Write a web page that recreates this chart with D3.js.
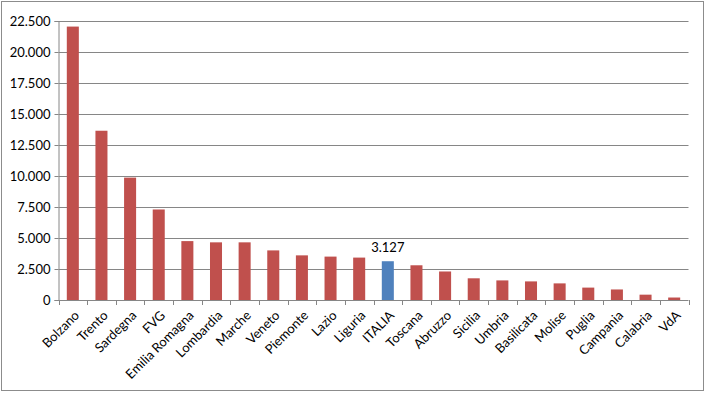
<!DOCTYPE html>
<html><head><meta charset="utf-8">
<script src="https://cdnjs.cloudflare.com/ajax/libs/d3/7.8.5/d3.min.js"></script>
<style>body{margin:0;background:#fff}svg{display:block}text{font-family:Lato,"Liberation Sans",sans-serif}</style>
</head><body><svg id="c" width="706" height="393"></svg>
<script>
const categories = ["Bolzano","Trento","Sardegna","FVG","Emilia Romagna","Lombardia","Marche","Veneto","Piemonte","Lazio","Liguria","ITALIA","Toscana","Abruzzo","Sicilia","Umbria","Basilicata","Molise","Puglia","Campania","Calabria","VdA"];
const values = [22050,13650,9870,7300,4750,4650,4650,4000,3600,3500,3420,3127,2800,2300,1750,1580,1500,1340,1000,850,430,200];
const highlight = ["ITALIA"];
const yTicks = [0,2500,5000,7500,10000,12500,15000,17500,20000,22500];

(function(){
const svg = d3.select("#c");
const mL = 58.5, mR = 688.5, mT = 21, mB = 300;
const loc = d3.formatLocale({decimal:",", thousands:".", grouping:[3], currency:["€",""]});
const fmt = loc.format(",");

svg.append("rect").attr("x",1.5).attr("y",1.5).attr("width",702).attr("height",389)
  .attr("fill","#fff").attr("stroke","#8c8c8c");

const x = d3.scaleBand().domain(categories).range([mL,mR]).paddingInner(0.58).paddingOuter(0.29);
const y = d3.scaleLinear().domain([0,22500]).range([mB,mT]);

svg.append("g").selectAll("line").data(yTicks.filter(d=>d>0)).join("line")
  .attr("x1",mL).attr("x2",mR).attr("y1",d=>Math.round(y(d))+0.5).attr("y2",d=>Math.round(y(d))+0.5)
  .attr("stroke","#868686");

const ya = svg.append("g").attr("transform",`translate(${mL},0)`)
  .call(d3.axisLeft(y).tickValues(yTicks).tickFormat(fmt).tickSize(4).tickPadding(4));
ya.select(".domain").attr("stroke","#868686");
ya.selectAll(".tick line").attr("stroke","#868686");
ya.selectAll(".tick text").attr("font-size","13px").attr("fill","#000");
ya.selectAll(".tick").attr("transform",d=>`translate(0,${Math.round(y(d))+0.5})`);

svg.append("g").selectAll("rect").data(categories).join("rect")
  .attr("x",d=>x(d)).attr("width",x.bandwidth())
  .attr("y",(d,i)=>y(values[i])).attr("height",(d,i)=>mB-y(values[i]))
  .attr("fill",d=>highlight.includes(d)?"#4F81BD":"#C0504D");

const xb = svg.append("g");
xb.append("line").attr("x1",mL).attr("x2",mR).attr("y1",mB+0.5).attr("y2",mB+0.5).attr("stroke","#868686");
const step = x.step();
const bounds = d3.range(categories.length+1).map(i=>mL+i*step);
xb.selectAll("line.t").data(bounds).join("line").attr("class","t")
  .attr("x1",d=>Math.round(d)+0.5).attr("x2",d=>Math.round(d)+0.5).attr("y1",mB).attr("y2",mB+5).attr("stroke","#868686");
xb.selectAll("text").data(categories).join("text")
  .attr("transform",d=>`translate(${x(d)+x.bandwidth()/2+4},${mB+13}) rotate(-45)`)
  .attr("text-anchor","end").attr("font-size","13px").attr("fill","#000").attr("dy","0.35em").text(d=>d);

const hi = categories.indexOf("ITALIA");
svg.append("text").attr("x",x("ITALIA")+x.bandwidth()/2).attr("y",y(values[hi])-9)
  .attr("text-anchor","middle").attr("font-size","13px").attr("fill","#000").text(fmt(values[hi]));
})();
</script></body></html>
